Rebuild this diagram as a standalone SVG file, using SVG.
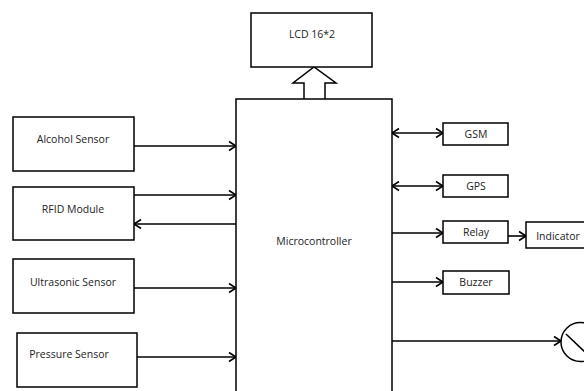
<svg xmlns="http://www.w3.org/2000/svg" width="584" height="391" viewBox="0 0 584 391">
  <style>
    .box { fill: #fff; stroke: #000; stroke-width: 1.5; }
    .lbl { font-family: "Open Sans", "Liberation Sans", Arial, sans-serif; font-size: 10.5px; fill: #222; text-anchor: middle; }
    .wire { fill: none; stroke: #000; stroke-width: 1.6; }
    .fwd { marker-end: url(#head); }
    .both { marker-start: url(#tail); marker-end: url(#head); }
    .back { marker-end: url(#head); }
  </style>
  <defs>
    <marker id="head" markerUnits="userSpaceOnUse" markerWidth="12" markerHeight="12" refX="9" refY="6" orient="auto">
      <path d="M2,1.5 L9,6 L2,10.5" fill="none" stroke="#000" stroke-width="1.6"/>
    </marker>
    <marker id="tail" markerUnits="userSpaceOnUse" markerWidth="12" markerHeight="12" refX="3" refY="6" orient="auto">
      <path d="M10,1.5 L3,6 L10,10.5" fill="none" stroke="#000" stroke-width="1.6"/>
    </marker>
  </defs>
  <rect width="584" height="391" fill="#fff"/>

  <!-- connectors -->
  <g id="connectors">
    <!-- block arrow from microcontroller up to LCD -->
    <path d="M304,99 L304,83 L293,83 L314,67 L336,83 L325,83 L325,99" fill="#fff" stroke="#000" stroke-width="1.5" stroke-linejoin="miter"/>
    <!-- inputs -->
    <line class="wire fwd" x1="134" y1="146" x2="236" y2="146"/>
    <line class="wire fwd" x1="134" y1="195" x2="236" y2="195"/>
    <line class="wire back" x1="236" y1="224" x2="134" y2="224"/>
    <line class="wire fwd" x1="134" y1="288" x2="236" y2="288"/>
    <line class="wire fwd" x1="137" y1="357" x2="236" y2="357"/>
    <!-- outputs -->
    <line class="wire both" x1="392" y1="133" x2="443" y2="133"/>
    <line class="wire both" x1="392" y1="186" x2="443" y2="186"/>
    <line class="wire fwd" x1="392" y1="233" x2="443" y2="233"/>
    <line class="wire fwd" x1="508" y1="236" x2="526" y2="236"/>
    <line class="wire fwd" x1="392" y1="282" x2="443" y2="282"/>
    <line class="wire fwd" x1="392" y1="341" x2="561" y2="341"/>
  </g>

  <g id="lcd">
    <rect class="box" x="251" y="13" width="121" height="54"/>
    <text class="lbl" x="312" y="38">LCD 16*2</text>
  </g>

  <g id="microcontroller">
    <rect class="box" x="236" y="99" width="156" height="300"/>
    <text class="lbl" x="314" y="245">Microcontroller</text>
  </g>

  <g id="alcohol-sensor">
    <rect class="box" x="13" y="117" width="121" height="54"/>
    <text class="lbl" x="73" y="143">Alcohol Sensor</text>
  </g>

  <g id="rfid-module">
    <rect class="box" x="13" y="187" width="121" height="53"/>
    <text class="lbl" x="73" y="213">RFID Module</text>
  </g>

  <g id="ultrasonic-sensor">
    <rect class="box" x="13" y="259" width="121" height="54"/>
    <text class="lbl" x="73" y="286">Ultrasonic Sensor</text>
  </g>

  <g id="pressure-sensor">
    <rect class="box" x="17" y="333" width="120" height="54"/>
    <text class="lbl" x="69" y="358">Pressure Sensor</text>
  </g>

  <g id="gsm">
    <rect class="box" x="443" y="123" width="65" height="22"/>
    <text class="lbl" x="476" y="138">GSM</text>
  </g>

  <g id="gps">
    <rect class="box" x="443" y="175" width="65" height="22"/>
    <text class="lbl" x="476" y="190">GPS</text>
  </g>

  <g id="relay">
    <rect class="box" x="443" y="221" width="65" height="22"/>
    <text class="lbl" x="476" y="236">Relay</text>
  </g>

  <g id="indicator">
    <rect class="box" x="526" y="222" width="66" height="26"/>
    <text class="lbl" x="558" y="240">Indicator</text>
  </g>

  <g id="buzzer">
    <rect class="box" x="443" y="271" width="66" height="23"/>
    <text class="lbl" x="476" y="286">Buzzer</text>
  </g>

  <g id="motor">
    <circle cx="580.5" cy="342" r="19.5" fill="#fff" stroke="#000" stroke-width="1.5"/>
    <line x1="566" y1="334" x2="586" y2="353" stroke="#000" stroke-width="1.6"/>
  </g>
</svg>
